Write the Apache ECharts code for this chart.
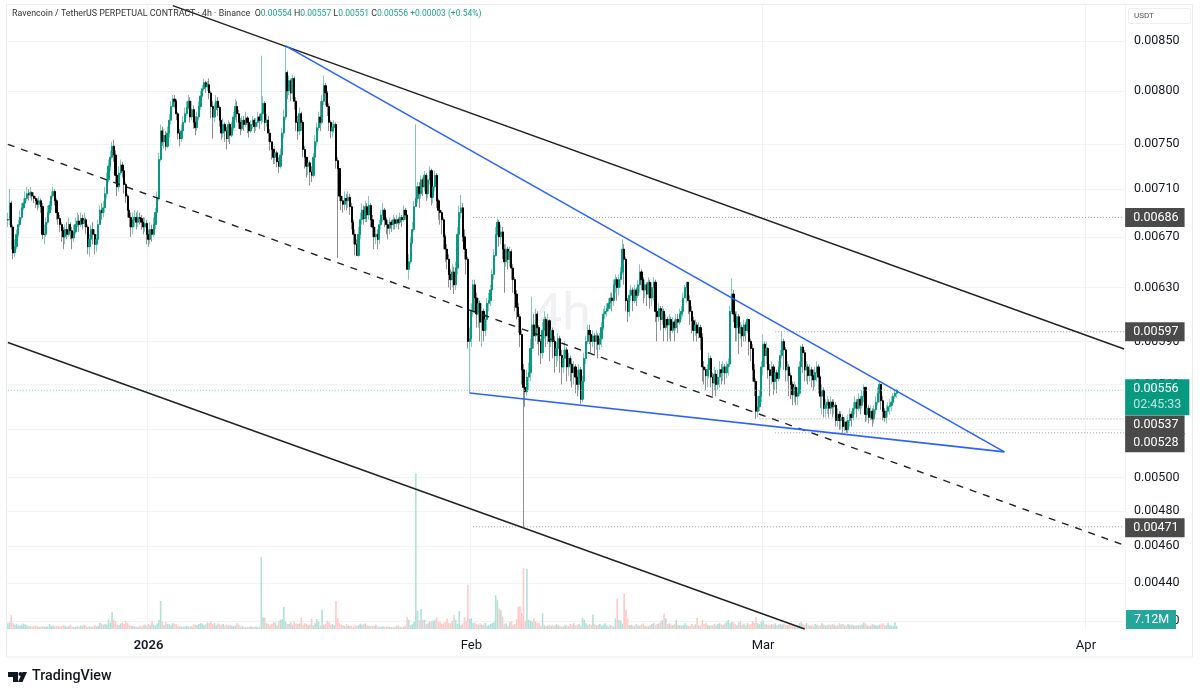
<!DOCTYPE html>
<html>
<head>
<meta charset="utf-8">
<title>RVN/USDT 4h</title>
<style>
	html, body { margin: 0; padding: 0; background: #fff; }
	#chart { width: 1200px; height: 697px; }
</style>
<script src="https://cdn.jsdelivr.net/npm/echarts@6/dist/echarts.min.js"></script>
</head>
<body>
<div id="chart"></div>
<script>
// all prices below are in units of 0.00001 USDT (the pair's tick size), one entry per 4h candle
const firstOpen = 684;
const closes = [
	684,698,678,657,662,672,680,686,694,698, 702,706,705,707,704,702,700,697,700,695,
	672,672,682,690,696,704,708,700,690,685, 680,675,670,676,672,680,675,669,674,680,
	683,680,685,681,684,678,662,668,676,672, 664,668,680,692,690,694,706,718,730,738,
	748,740,722,712,724,731,726,714,704,692, 686,678,684,686,682,686,685,682,678,681,
	672,668,676,672,680,690,702,736,762,752, 758,748,760,772,785,792,790,778,760,755,
	762,770,778,784,790,775,782,770,765,775, 785,795,802,808,804,806,798,785,775,782,
	790,784,772,760,768,762,755,768,758,765, 775,785,778,770,764,772,768,774,770,762,
	768,772,766,770,775,772,778,788,770,772, 760,752,745,738,742,734,730,740,760,775,
	818,800,810,798,812,790,770,762,778,770, 745,738,730,733,725,722,738,752,765,775,
	770,790,805,798,785,770,762,765,768,735, 728,704,700,697,702,700,703,695,682,672,
	664,655,672,684,692,685,695,688,696,684, 678,670,672,668,680,688,692,684,680,677,
	682,680,684,681,684,682,686,684,692,688, 644,650,665,676,695,702,712,706,718,712,
	722,706,718,726,703,712,722,700,692,690, 684,670,660,652,640,636,642,632,645,672,
	690,694,670,660,652,590,592,612,632,622, 610,618,604,612,598,606,618,620,628,640,
	655,672,682,670,674,660,650,660,652,658, 645,636,625,615,608,595,570,558,555,565,
	568,585,602,594,610,600,590,582,598,606, 594,605,590,598,590,580,585,592,580,572,
	578,584,572,578,574,568,572,565,560,570, 550,562,578,590,598,595,590,594,590,594,
	588,592,600,610,612,614,618,622,620,632, 636,630,636,642,660,652,620,612,624,628,
	620,628,624,632,642,636,628,632,625,634, 622,630,634,612,608,614,606,612,600,606,
	602,606,598,604,600,606,604,610,612,622, 630,634,620,612,605,598,602,596,600,593,
	572,570,566,570,578,565,561,567,560,565, 570,568,572,568,572,574,612,625,610,600,
	608,596,600,594,602,598,606,590,585,570, 562,542,545,552,572,588,580,585,570,566,
	572,562,568,564,572,580,590,584,570,572, 566,560,553,558,552,554,572,586,582,570,
	572,566,570,566,563,568,572,565,552,556, 544,546,548,544,548,545,546,536,540,536,
	538,532,535,530,536,540,538,544,548,544, 550,546,552,558,540,544,538,542,537,543,
	548,554,560,549,542,538,542,545,546,548, 552,554,556
];
const highs = [
	690,710,700,680,668,676,684,692,698,702, 708,712,710,712,708,707,704,702,704,702,
	698,680,686,696,700,708,712,710,702,692, 688,682,678,680,682,686,682,678,680,686,
	690,688,690,688,690,686,680,672,680,682, 676,672,684,696,698,700,712,724,736,744,
	752,754,744,726,730,736,734,728,716,706, 692,690,690,692,690,692,690,688,686,686,
	684,676,682,680,686,694,708,742,768,766, 764,762,766,778,790,796,796,792,780,764,
	768,776,784,790,796,794,790,786,776,780, 790,800,806,812,810,810,812,800,790,788,
	796,794,786,772,774,770,766,772,770,770, 780,792,790,782,774,776,776,780,776,772,
	772,776,774,774,780,778,835,795,790,778, 776,764,752,746,748,744,738,746,765,782,
	845,820,815,812,816,814,794,776,784,780, 772,748,736,738,735,730,742,758,770,780,
	790,796,815,808,800,788,772,770,772,770, 738,728,708,704,708,706,708,706,698,684,
	676,668,678,690,698,696,700,698,704,698, 688,680,678,676,684,692,698,694,686,684,
	686,684,688,686,688,686,690,688,696,694, 690,656,670,682,700,768,716,716,722,720,
	726,724,722,730,728,716,726,724,702,696, 692,686,672,664,656,644,648,646,650,678,
	696,705,698,676,664,654,600,618,636,636, 626,622,620,618,614,610,622,626,632,644,
	660,678,685,684,680,678,664,664,662,662, 660,648,638,628,618,610,598,574,566,570,
	575,592,623,610,614,612,602,592,604,612, 608,610,606,602,600,594,590,596,594,584,
	584,590,586,582,580,578,576,574,570,574, 572,566,582,594,602,602,598,598,596,598,
	596,596,604,614,616,618,622,626,626,636, 640,638,640,646,668,664,654,622,628,632,
	630,632,630,636,648,644,638,636,634,638, 636,634,638,636,616,618,616,616,614,610,
	608,610,608,608,606,610,610,614,616,626, 632,634,634,624,616,608,606,604,604,602,
	596,576,572,574,582,580,568,572,570,570, 576,574,576,574,576,578,616,637,628,612,
	612,610,604,602,606,604,607,606,592,588, 574,564,552,556,576,595,590,590,586,574,
	576,574,572,570,576,584,597,592,586,576, 574,568,562,562,560,558,576,587,588,584,
	576,574,574,572,570,572,576,574,566,560, 558,550,552,550,552,550,550,548,544,542,
	542,540,538,536,540,544,542,548,552,550, 554,552,556,560,558,548,546,546,544,546,
	552,558,562,560,552,544,546,548,550,552, 554,557,557
];
const lows = [
	678,680,660,652,654,660,670,678,684,692, 696,700,700,702,700,698,694,692,694,690,
	668,664,670,680,688,692,702,696,684,680, 674,666,660,664,668,670,668,660,666,672,
	678,674,678,676,678,672,656,654,664,664, 656,658,664,684,684,686,690,702,716,726,
	736,734,716,704,708,722,720,706,698,686, 678,670,672,678,676,678,680,676,672,674,
	664,662,664,666,670,676,686,700,734,748, 746,744,746,756,768,784,784,772,754,748,
	752,758,770,776,782,770,772,764,758,762, 772,782,794,800,798,800,792,774,755,770,
	778,776,766,754,756,752,745,752,750,756, 762,772,770,764,758,762,762,766,760,756,
	760,764,760,762,766,764,768,770,762,766, 752,744,736,732,732,729,724,728,738,755,
	772,792,796,790,792,782,762,754,758,762, 738,728,720,722,713,716,720,736,748,762,
	762,768,786,786,776,762,755,756,760,728, 653,700,692,690,692,692,694,688,676,664,
	655,657,654,668,680,680,682,682,684,678, 670,660,664,660,664,676,682,678,672,668,
	672,674,676,676,678,676,680,678,682,684, 645,636,648,664,674,696,698,694,702,704,
	708,700,702,714,696,698,708,694,684,680, 672,660,650,644,630,628,630,625,628,640,
	668,685,666,652,640,585,554,586,608,612, 600,600,590,586,590,594,598,612,616,628,
	636,654,670,662,664,652,626,646,644,646, 636,626,612,606,596,586,560,471,545,552,
	556,562,580,585,590,588,580,574,578,592, 586,588,576,586,578,568,572,576,568,560,
	568,572,562,566,562,558,560,554,552,556, 547,548,560,574,588,588,582,586,580,584,
	578,584,586,598,606,608,612,614,612,616, 626,620,624,630,640,632,612,604,608,620,
	612,618,616,622,626,628,618,622,616,622, 614,616,620,604,590,604,598,602,590,598,
	590,592,590,596,590,598,596,602,606,608, 622,618,610,602,596,590,594,590,592,584,
	562,560,556,558,564,558,552,556,552,556, 558,560,562,560,564,566,572,610,604,590,
	590,581,592,586,590,590,596,580,576,562, 552,537,538,542,548,566,572,574,564,552,
	560,553,556,554,562,570,578,570,562,562, 552,550,546,548,546,546,552,570,568,562,
	562,560,562,558,556,558,562,554,544,540, 538,538,540,538,540,538,540,532,532,530,
	530,528,529,528,528,532,532,536,540,538, 542,540,544,548,535,536,534,536,532,534,
	540,546,548,543,536,535,534,538,540,542, 546,550,551
];
// volume in millions
const volumes = [
	14,16,34,14,10,12,9,8,10,13, 11,9,7,7,6,6,8,7,5,6,
	7,5,6,6,12,7,9,6,7,8, 6,7,9,8,6,7,10,6,5,5,
	6,6,9,7,10,8,5,7,5,6, 10,6,8,15,13,10,12,11,23,15,
	41,22,19,10,9,13,16,12,19,14, 9,8,7,6,5,5,8,6,9,10,
	7,12,9,19,11,9,13,22,67,18, 9,17,12,11,9,14,12,11,8,6,
	6,5,6,8,6,7,6,10,11,9, 12,14,13,10,11,16,14,18,12,14,
	9,13,11,10,12,8,11,9,10,8, 7,9,14,10,6,7,5,4,5,5,
	6,5,5,6,4,6,173,28,28,14, 12,9,12,16,15,9,18,22,24,53,
	18,12,12,16,10,18,14,12,13,27, 10,14,12,9,11,25,9,14,24,17,
	8,46,10,13,20,16,10,12,9,67, 26,14,11,9,7,12,9,7,8,6,
	9,8,9,13,10,12,13,9,8,7, 8,7,10,6,5,5,7,5,6,6,
	5,5,4,6,7,9,5,4,6,8, 29,22,9,12,18,374,44,20,48,22,
	22,12,14,18,18,20,22,28,18,16, 12,14,17,25,15,14,19,33,22,12,
	43,9,14,28,18,106,24,26,14,16, 12,10,14,10,10,15,8,9,12,14,
	16,81,69,49,45,30,12,14,8,16, 18,10,12,24,53,55,38,146,20,144,
	22,20,18,25,18,14,15,8,38,9, 7,8,10,8,9,8,12,9,8,7,
	6,10,8,7,12,10,14,9,10,12, 8,27,22,14,10,12,9,35,12,9,
	10,12,8,10,14,9,6,10,8,6, 25,73,22,20,13,84,46,25,9,10,
	8,7,12,9,7,10,13,8,7,7, 9,12,14,10,12,14,18,22,37,25,
	12,14,11,9,13,22,10,9,8,9, 14,10,7,8,12,7,11,27,9,8,
	22,12,14,10,8,9,8,12,9,12, 14,11,10,13,18,22,14,17,16,12,
	9,16,18,10,13,9,14,11,12,19, 15,29,14,12,18,20,12,11,10,9,
	12,10,14,9,11,12,10,13,10,9, 14,9,12,10,8,9,14,17,13,9,
	14,10,8,9,7,12,10,8,9,14, 10,8,9,11,9,12,10,8,9,14,
	11,12,9,8,12,10,11,9,8,9, 9,10,11,16,13,9,7,8,12,10,
	9,8,10,11,14,9,8,15,9,8, 7,16,7.12
];
// axis
const slotCount = 644; // candles plus the empty space on the right
const monthTicks = {81: '2026', 267: 'Feb', 435: 'Mar', 621: 'Apr'};
const priceTicks = [0.0085, 0.008, 0.0075, 0.0071, 0.0067, 0.0063, 0.0059, 0.0056, 0.0053, 0.005, 0.0048, 0.0046, 0.0044, 0.0042];
// drawings: [slot, price] end points
const channelTop = [[95, 0.008873], [643, 0.005846]];
const channelMid = [[0, 0.007497], [642, 0.00461]];
const channelLow = [[0, 0.005893], [459, 0.00416]];
const wedgeTop = [[160, 0.00845], [574, 0.005159]];
const wedgeLow = [[266, 0.005542], [574, 0.005159]];
// horizontal levels: price, first slot, label y shift
const levels = [
	[0.00686, 268, 0],
	[0.00597, 442, 0],
	[0.00537, 433, 6],
	[0.00528, 442, 10],
	[0.00471, 268, 1]
];
const lastPrice = 0.00556;
const countdown = '02:45:33';

const UNIT = 0.00001;
const UP = '#089981';
const DOWN = '#000000';

let categories = [];
for (let i = 0; i < slotCount; i++) {
	categories.push(monthTicks[i] || String(i));
}
let wickData = [];
let bodyData = [];
let volumeData = [];
for (let i = 0; i < closes.length; i++) {
	const o = (i == 0 ? firstOpen : closes[i - 1]) * UNIT;
	const c = closes[i] * UNIT;
	wickData.push([o, c, lows[i] * UNIT, highs[i] * UNIT]);
	bodyData.push([o, c, Math.min(o, c), Math.max(o, c)]);
	volumeData.push({
		value: volumes[i],
		itemStyle: {color: c >= o ? '#b2e0d9' : '#ffc9c9'}
	});
}

function drawing(points, color, width, type) {
	return {
		type: 'line',
		data: points,
		symbol: 'none',
		silent: true,
		z: 5,
		lineStyle: {color: color, width: width, type: type || 'solid'}
	};
}
function level(item) {
	let s = drawing([[item[1], item[0]], [slotCount - 1, item[0]]], '#9a9a9a', 1, [1, 2]);
	s.z = 4;
	s.endLabel = {
		show: true,
		formatter: item[0].toFixed(5),
		color: '#fff',
		fontFamily: 'Roboto',
		fontSize: 12.5,
		backgroundColor: '#4a4a4a',
		padding: [3, 6, 3, 8],
		distance: 0,
		offset: [1, item[2]]
	};
	return s;
}

const myChart = echarts.init(document.getElementById('chart'), null, {renderer: 'canvas'});
let lastSeries = drawing([[0, lastPrice], [slotCount - 1, lastPrice]], '#7fd0c2', 1, [1, 2]);
lastSeries.z = 4;
lastSeries.endLabel = {
	show: true,
	formatter: '{p|' + lastPrice.toFixed(5) + '}\n{t|' + countdown + '}',
	backgroundColor: UP,
	padding: [2, 8, 2, 8],
	distance: 0,
	offset: [1, 7],
	rich: {
		p: {color: '#fff', fontFamily: 'Roboto', fontSize: 12.5, lineHeight: 16},
		t: {color: '#b8e6dd', fontFamily: 'Roboto', fontSize: 12.5, lineHeight: 16}
	}
};

const option = {
	animation: false,
	backgroundColor: '#fff',
	textStyle: {fontFamily: 'Roboto'},
	title: {
		left: 12,
		top: 9,
		padding: 0,
		text: '{n|Ravencoin / TetherUS PERPETUAL CONTRACT · 4h · Binance}  {n|O}{v|0.00554} {n|H}{v|0.00557} {n|L}{v|0.00551} {n|C}{v|0.00556} {v|+0.00003 (+0.54%)}',
		textStyle: {
			fontWeight: 'normal',
			fontSize: 8.9,
			rich: {
				n: {color: '#333', fontSize: 8.9, fontWeight: 'normal', fontFamily: 'Roboto'},
				v: {color: '#1f9f8a', fontSize: 8.5, fontWeight: 'normal', fontFamily: 'Roboto'}
			}
		}
	},
	grid: [
		{left: 7, right: 75, top: 5, bottom: 67},
		{left: 7, right: 75, top: 469, bottom: 68}
	],
	xAxis: [{
		type: 'category',
		data: categories,
		gridIndex: 0,
		axisLine: {show: false},
		axisTick: {show: false},
		axisLabel: {
			interval: index => monthTicks[index] != null,
			color: '#131722',
			fontSize: 13,
			margin: 9,
			formatter: v => v == '2026' ? '{y|2026}' : v,
			rich: {y: {fontWeight: 600, fontSize: 13, color: '#131722'}}
		},
		splitLine: {
			show: true,
			interval: index => monthTicks[index] != null,
			lineStyle: {color: '#f2f3f5'}
		}
	}, {
		type: 'category',
		data: categories,
		gridIndex: 1,
		show: false
	}],
	yAxis: [{
		type: 'log',
		logBase: 10,
		gridIndex: 0,
		position: 'right',
		min: 0.004155,
		max: 0.00888,
		axisLine: {show: false},
		axisTick: {show: false, customValues: priceTicks},
		axisLabel: {
			customValues: priceTicks,
			formatter: v => Number(v).toFixed(5),
			color: '#131722',
			fontSize: 12.5,
			margin: 9,
			showMinLabel: true,
			showMaxLabel: true
		},
		splitLine: {show: true, lineStyle: {color: '#f2f3f5'}}
	}, {
		type: 'value',
		gridIndex: 1,
		min: 0,
		max: 384,
		show: false
	}],
	series: [
		{
			type: 'bar',
			xAxisIndex: 1,
			yAxisIndex: 1,
			data: volumeData,
			barWidth: 1.6,
			silent: true,
			z: 1
		},
		{
			type: 'candlestick',
			data: wickData,
			barWidth: 0.5,
			silent: true,
			z: 2,
			itemStyle: {color: '#7fcabd', color0: '#8e8e8e', borderColor: '#7fcabd', borderColor0: '#8e8e8e', borderWidth: 1}
		},
		{
			type: 'candlestick',
			data: bodyData,
			barWidth: 1.7,
			silent: true,
			z: 3,
			itemStyle: {color: UP, color0: DOWN, borderColor: UP, borderColor0: DOWN, borderColorDoji: DOWN, borderWidth: 1}
		},
		drawing(channelTop, '#222', 1.5),
		drawing(channelMid, '#222', 1.4, [7, 7]),
		drawing(channelLow, '#222', 1.5),
		drawing(wedgeTop, '#2962ff', 1.6),
		drawing(wedgeLow, '#2962ff', 1.6),
		lastSeries
	].concat(levels.map(level)),
	graphic: [
		// panel frame
		{type: 'rect', z: 0, shape: {x: 6.5, y: 4.5, width: 1186, height: 652.5}, style: {fill: 'none', stroke: '#ececee', lineWidth: 1}, silent: true},
		// interval watermark
		{type: 'text', z: 0, x: 533, y: 291, style: {text: '4h', fill: '#f0f1f3', font: '400 52px Roboto'}, silent: true},
		// currency button
		{type: 'rect', z: 20, shape: {x: 1128.5, y: 8.5, width: 62, height: 15, r: 2}, style: {fill: '#fff', stroke: '#eeeeee', lineWidth: 1}, silent: true},
		{type: 'text', z: 21, x: 1134, y: 12, style: {text: 'USDT', fill: '#555', font: '8px Roboto'}, silent: true},
		// last volume tag
		{type: 'rect', z: 20, shape: {x: 1126, y: 610, width: 50, height: 19}, style: {fill: '#26a69a'}, silent: true},
		{type: 'text', z: 21, x: 1134, y: 613, style: {text: '7.12M', fill: '#fff', font: '12.5px Roboto'}, silent: true},
		// TradingView mark
		{type: 'polygon', shape: {points: [[8, 672], [18, 672], [18, 682], [13, 682], [13, 677], [8, 677]]}, style: {fill: '#131722'}, silent: true},
		{type: 'circle', shape: {cx: 20.5, cy: 674, r: 2}, style: {fill: '#131722'}, silent: true},
		{type: 'polygon', shape: {points: [[22.5, 672], [27, 672], [22.5, 682], [18, 682]]}, style: {fill: '#131722'}, silent: true},
		{type: 'text', x: 32, y: 669, style: {text: 'TradingView', fill: '#131722', font: '500 14.3px Roboto'}, silent: true}
	]
};
myChart.setOption(option);
</script>
</body>
</html>
